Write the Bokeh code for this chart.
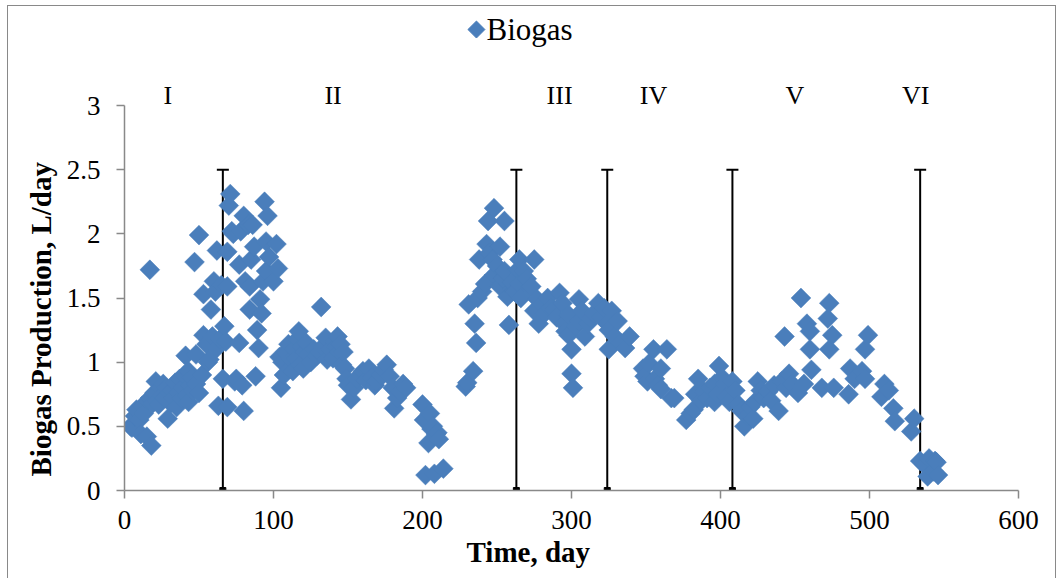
import numpy as np
from bokeh.plotting import figure
from bokeh.models import Range1d, Title, FixedTicker
from bokeh.core.properties import value
from bokeh.embed import file_html
from bokeh.resources import INLINE

# ---------------- data ----------------
days = [4, 5, 7, 8, 10, 11, 12, 13, 15, 16, 17, 17, 18, 19, 20, 21, 22, 23, 24, 25,
        26, 27, 28, 29, 30, 31, 32, 33, 34, 35, 36, 37, 38, 39, 40, 41, 42, 43, 43, 44,
        45, 46, 47, 48, 48, 50, 50, 52, 53, 53, 55, 56, 57, 58, 59, 60, 61, 62, 62, 63,
        64, 65, 66,
        67, 68, 69, 69, 69, 70, 71, 72, 73, 74, 75, 77, 77, 78, 79, 80, 80, 81, 83, 84,
        84, 85, 86, 87, 88, 89, 90, 91, 92, 93, 94, 95, 95, 96, 97, 100, 102, 103, 104, 105,
        106, 107, 108, 110, 111,
        112, 113, 114, 115, 116, 117, 118, 119, 120, 121, 122, 123, 125, 127, 129, 131, 132, 133, 135, 136,
        138, 140, 141, 142, 143, 144, 145, 146, 147,
        148, 149, 150, 152, 154, 156, 158, 160, 162, 164, 166, 168, 169, 172, 174, 176, 178, 180, 181, 183,
        185, 187, 189, 200, 201, 202, 204, 205, 206, 207, 208, 209, 210, 211, 214,
        229, 230, 231, 234, 235, 236, 237, 238, 240, 242, 243, 244, 245, 247, 248, 248, 250, 252, 252, 254,
        255, 255, 257, 258, 260, 262, 264, 265, 265, 266, 268, 270, 272, 273, 275, 275, 277, 278, 280, 282,
        284, 286, 288, 290, 292, 294, 295, 296, 298, 298,
        300, 300, 301, 303, 305, 305, 307, 309, 311, 313, 315, 318, 320, 322, 324, 325, 325, 327, 329, 331,
        333, 336, 339, 348, 349, 351, 352, 355, 356, 358, 360, 360, 364, 367,
        369, 377, 380, 382, 383, 385, 387, 389, 391, 393, 396, 396, 398, 399, 401, 403, 404, 406, 408, 410,
        412, 414, 416, 418, 420, 422, 423, 425, 427, 429, 432, 434, 436, 439, 441, 443, 444, 446, 448,
        452, 454, 456, 458, 460, 460, 461, 468, 472, 473, 473, 475, 476, 486, 487, 490, 495, 497, 497, 499,
        508, 510, 513, 516, 517,
        528, 530, 534, 537, 539, 540, 543, 544, 545, 546]

biogas = [0.50, 0.49, 0.58, 0.63, 0.55, 0.44, 0.66, 0.60, 0.42, 0.70, 1.72, 0.72, 0.35, 0.68, 0.76, 0.85, 0.70, 0.67, 0.80, 0.74,
          0.83, 0.72, 0.80, 0.56, 0.76, 0.68, 0.78, 0.72, 0.84, 0.65, 0.76, 0.87, 0.72, 0.80, 0.90, 1.05, 0.74, 0.93, 0.69, 0.82,
          0.88, 0.78, 1.78, 0.83, 1.06, 1.99, 0.76, 0.90, 1.53, 1.21, 1.14, 1.00, 1.02, 1.41, 1.20, 1.63, 1.55, 1.11, 1.87, 0.66,
          1.18, 1.60, 0.87,
          1.28, 1.16, 0.65, 1.86, 1.59, 2.22, 2.31, 2.02, 2.00, 0.85, 0.87, 1.76, 1.15, 2.02, 0.82, 2.14, 0.62, 1.63, 2.07, 1.59,
          1.41, 1.80, 2.07, 1.90, 0.89, 1.25, 1.11, 1.49, 1.38, 1.63, 2.25, 1.94, 1.71, 2.14, 1.82, 1.63, 1.92, 1.73, 1.04, 0.80,
          1.00, 0.90, 1.08, 1.14, 0.95,
          1.02, 0.93, 1.10, 1.03, 1.18, 1.24, 0.98, 1.12, 0.95, 1.08, 1.15, 1.06, 1.00, 1.10, 1.05, 1.08, 1.43, 1.12, 1.19, 1.02,
          1.10, 1.03, 1.16, 1.12, 1.20, 1.08, 1.14, 0.98, 1.08,
          0.95, 0.87, 0.82, 0.71, 0.80, 0.87, 0.90, 0.93, 0.86, 0.95, 0.88, 0.82, 0.85, 0.90, 0.94, 0.98, 0.89, 0.80, 0.64, 0.72,
          0.77, 0.83, 0.80, 0.67, 0.55, 0.12, 0.37, 0.60, 0.48, 0.50, 0.13, 0.44, 0.45, 0.40, 0.17,
          0.81, 0.84, 1.45, 0.93, 1.30, 1.15, 1.50, 1.80, 1.55, 1.61, 1.92, 2.10, 1.85, 1.80, 2.20, 1.68, 1.75, 1.90, 1.59, 1.65,
          2.10, 1.71, 1.51, 1.29, 1.62, 1.55, 1.72, 1.80, 1.61, 1.50, 1.71, 1.65, 1.58, 1.59, 1.80, 1.40, 1.49, 1.30, 1.45, 1.38,
          1.50, 1.42, 1.41, 1.35, 1.54, 1.46, 1.30, 1.24, 1.21, 1.37,
          1.10, 0.91, 0.80, 1.28, 1.49, 1.32, 1.40, 1.20, 1.30, 1.34, 1.38, 1.46, 1.35, 1.42, 1.30, 1.25, 1.10, 1.40, 1.20, 1.32,
          1.15, 1.11, 1.20, 0.95, 0.89, 0.85, 0.99, 1.10, 0.87, 0.82, 0.95, 0.79, 1.10, 0.72,
          0.72, 0.55, 0.60, 0.63, 0.75, 0.87, 0.70, 0.77, 0.72, 0.80, 0.83, 0.69, 0.75, 0.97, 0.88, 0.83, 0.73, 0.69, 0.85, 0.78,
          0.67, 0.62, 0.50, 0.58, 0.65, 0.56, 0.69, 0.85, 0.78, 0.72, 0.77, 0.70, 0.82, 0.62, 0.85, 1.20, 0.80, 0.91, 0.83,
          0.76, 1.50, 0.83, 1.30, 1.24, 1.10, 0.94, 0.80, 1.34, 1.46, 1.10, 1.21, 0.80, 0.75, 0.95, 0.87, 0.93, 1.10, 0.87, 1.21,
          0.73, 0.83, 0.78, 0.64, 0.54,
          0.46, 0.56, 0.23, 0.20, 0.11, 0.25, 0.15, 0.23, 0.22, 0.12]

phase_bounds = [66, 263, 324, 408, 534]
bound_top = 2.5
phase_names = ["I", "II", "III", "IV", "V", "VI"]
phase_label_x = [29, 140, 292, 355, 450, 531]
phase_label_y = 3.078

x_ticks = [0, 100, 200, 300, 400, 500, 600]
y_ticks = [0, 0.5, 1, 1.5, 2, 2.5, 3]

series_name = "Biogas"
x_title = "Time, day"
y_title = "Biogas Production, L/day"

BLUE = "#4A7EBB"
GRAY = "#898989"
FONT = "Liberation Serif"

p = figure(width=1049, height=573, margin=(5, 0, 0, 7),
           x_range=Range1d(0, 600), y_range=Range1d(0, 3.7325),
           output_backend="svg", toolbar_location=None,
           min_border_left=116, min_border_right=39, min_border_top=5, min_border_bottom=89,
           background_fill_color="white", border_fill_color="white")
p.styles = {"border-top": f"1px solid {GRAY}", "border-left": f"1px solid {GRAY}",
            "border-right": f"1px solid {GRAY}"}
p.outline_line_color = None
p.grid.visible = False

# axes
for ax in (p.xaxis[0], p.yaxis[0]):
    ax.axis_line_color = GRAY
    ax.axis_line_width = 1.5
    ax.major_tick_line_color = GRAY
    ax.major_tick_line_width = 1.5
    ax.major_tick_in = 0
    ax.major_tick_out = 8
    ax.minor_tick_line_color = None
    ax.major_label_text_font = FONT
    ax.major_label_text_font_size = "27px"
    ax.major_label_text_color = "black"
p.xaxis.ticker = FixedTicker(ticks=x_ticks)
p.yaxis.ticker = FixedTicker(ticks=y_ticks)
p.yaxis.bounds = (0, 3)
p.xaxis.major_label_standoff = 12
p.yaxis.major_label_standoff = 16

# axis titles (as side titles so they can be shifted like the original)
p.add_layout(Title(text=x_title, align="left", offset=342, standoff=5, text_font=FONT,
                   text_font_size="29px", text_font_style="bold", text_color="black"), "below")
p.add_layout(Title(text=y_title, align="left", offset=14, standoff=14, text_font=FONT,
                   text_font_size="29px", text_font_style="bold", text_color="black"), "left")

# phase boundary lines (error-bar style)
p.segment(x0=phase_bounds, y0=[0] * len(phase_bounds), x1=phase_bounds, y1=[bound_top] * len(phase_bounds),
          line_color="black", line_width=2)
p.scatter(x=phase_bounds, y=[bound_top] * len(phase_bounds), marker="dash", size=12,
          line_color="black", line_width=2)
p.scatter(x=phase_bounds, y=[0] * len(phase_bounds), marker="square", size=6,
          fill_color="black", line_color="black")

# data
p.scatter(x=days, y=biogas, marker="square", angle=np.pi / 4, size=14,
          fill_color=BLUE, line_color=BLUE, line_width=0.5)

# phase labels
p.text(x=phase_label_x, y=[phase_label_y] * len(phase_label_x), text=phase_names,
       text_font=value(FONT), text_font_size="26px", text_align="center",
       text_baseline="middle", text_color="black")

# legend key (drawn by hand so the marker keeps its diamond orientation)
legend_x, legend_y = 236.2, 3.592
p.scatter(x=[legend_x], y=[legend_y], marker="square", angle=np.pi / 4, size=12,
          fill_color=BLUE, line_color=BLUE)
p.text(x=[legend_x + 6.8], y=[legend_y], text=[series_name], text_font=value(FONT),
       text_font_size="31px", text_align="left", text_baseline="middle", text_color="black")

open("out.html", "w").write(file_html(p, INLINE))
